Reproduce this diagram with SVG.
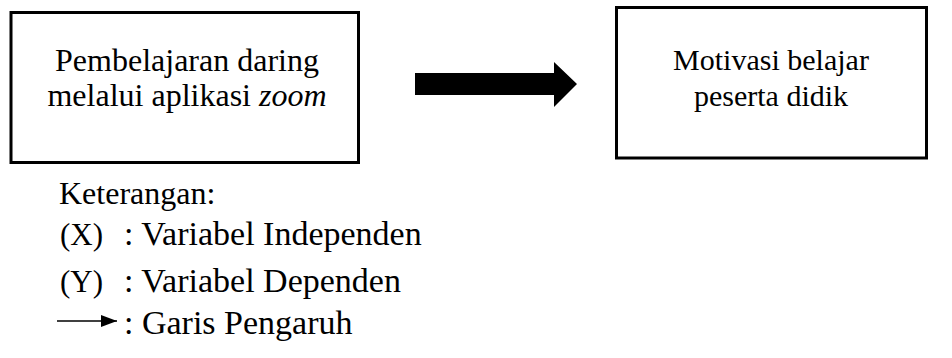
<svg xmlns="http://www.w3.org/2000/svg" width="952" height="358" viewBox="0 0 952 358">
  <style>
    .box { fill: #ffffff; stroke: #000000; stroke-width: 3; }
    .t { font-family: "Liberation Serif", "Times New Roman", serif; font-size: 32px; fill: #000000; }
    .e { font-size: 34px; }
    .k { font-size: 31px; }
    .s { font-size: 30px; }
    .c { text-anchor: middle; }
  </style>
  <defs>
    <marker id="head" viewBox="0 0 16 12" refX="16" refY="6" markerWidth="16" markerHeight="12" markerUnits="userSpaceOnUse" orient="auto">
      <path d="M0,0 L16,6 L0,12 Z" fill="#000000"/>
    </marker>
  </defs>
  <rect width="952" height="358" fill="#ffffff"/>

  <g id="node-x">
    <rect class="box" x="11" y="12.5" width="347.5" height="150"/>
    <text class="t c" x="187" y="71">Pembelajaran daring</text>
    <text class="t c" x="187" y="106">melalui aplikasi <tspan font-style="italic">zoom</tspan></text>
  </g>

  <g id="node-y">
    <rect class="box" x="616.5" y="7.5" width="310" height="150.5"/>
    <text class="t s c" x="771" y="70">Motivasi belajar</text>
    <text class="t s c" x="771" y="106">peserta didik</text>
  </g>

  <g id="connectors">
    <path d="M415,73 L554,73 L554,62 L577,84 L554,107 L554,95 L415,95 Z" fill="#000000"/>
  </g>

  <g id="legend">
    <text class="t" x="59" y="204">Keterangan:</text>
    <text class="t k" x="60" y="245">(X)</text>
    <text class="t e" x="124" y="245">: Variabel Independen</text>
    <text class="t k" x="60" y="292">(Y)</text>
    <text class="t e" x="124" y="292">: Variabel Dependen</text>
    <line x1="57" y1="321" x2="117" y2="321" stroke="#000000" stroke-width="1.5" marker-end="url(#head)"/>
    <text class="t e" x="124" y="334">: Garis Pengaruh</text>
  </g>
</svg>
